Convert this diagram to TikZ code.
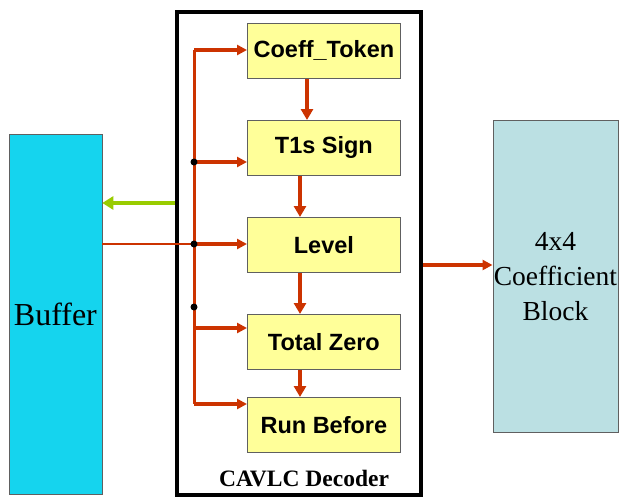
\documentclass[tikz,border=0pt]{standalone}
\usepackage{fontspec}
\setmainfont{Liberation Serif}
\setsansfont{Liberation Sans}
\usetikzlibrary{arrows.meta}
\definecolor{redc}{HTML}{CC3300}
\definecolor{yellowfill}{HTML}{FFFF99}
\definecolor{cyanfill}{HTML}{15D4EE}
\definecolor{bluefill}{HTML}{BBE0E3}
\definecolor{greenc}{HTML}{99CC00}
\definecolor{bordergray}{HTML}{606060}
\begin{document}
\begin{tikzpicture}[x=1pt,y=-1pt,
  stage/.style={draw=bordergray, fill=yellowfill, line width=0.8pt, minimum width=153pt, minimum height=55pt, anchor=north west, inner sep=0pt, font=\sffamily\bfseries\fontsize{23.5}{28}\selectfont},
  harrow/.style={draw=redc, line width=3.5pt, -{Triangle[length=10pt,width=10pt]}},
  varrow/.style={draw=redc, line width=4pt, -{Triangle[length=11pt,width=12pt]}},
  bus/.style={draw=redc, line width=3pt},
  thinred/.style={draw=redc, line width=1.8pt},
  garrow/.style={draw=greenc, line width=4pt, -{Triangle[length=11pt,width=13pt]}},
  junction/.style={fill=black}
]
\useasboundingbox (0,0) rectangle (619,496);
% buffer
\node[draw=bordergray, fill=cyanfill, line width=0.8pt, minimum width=93pt, minimum height=360pt, anchor=north west, inner sep=0pt, font=\fontsize{32}{36}\selectfont] (buf) at (8.5,134) {Buffer};
% coefficient block
\node[draw=bordergray, fill=bluefill, line width=0.8pt, minimum width=125pt, minimum height=312pt, anchor=north west, inner sep=0pt, align=center, font=\fontsize{27.5}{35}\selectfont] (coef) at (492.5,120) {4x4\\Coefficient\\Block};
% decoder frame
\node[draw=black, line width=4pt, minimum width=244.8pt, minimum height=483.5pt, anchor=north west, inner sep=0pt] (dec) at (174.5,9.5) {};
\node[anchor=base, font=\bfseries\fontsize{23.5}{28}\selectfont] (lab) at (304,486) {CAVLC Decoder};
% stages
\node[stage] (ct) at (247,23) {Coeff\_Token};
\node[stage] (t1) at (247,120) {T1s Sign};
\node[stage] (lv) at (247,217) {Level};
\node[stage] (tz) at (247,314) {Total Zero};
\node[stage] (rb) at (247,397) {Run Before};
% bus
\coordinate (bt) at (194,50);
\coordinate (b1) at (194,162);
\coordinate (b2) at (194,244);
\coordinate (b3) at (194,307);
\coordinate (b4) at (194,328);
\coordinate (bb) at (194,404);
\draw[bus] (bt) -- (bb);
\draw[harrow] (bt) -- (ct.west |- bt);
\draw[harrow] (b1) -- (t1.west |- b1);
\draw[harrow] (b2) -- (lv.west |- b2);
\draw[harrow] (b4) -- (tz.west |- b4);
\draw[harrow] (bb) -- (rb.west |- bb);
\draw[thinred] (buf.east |- b2) -- (b2);
\fill[junction] (b1) circle (3.5pt);
\fill[junction] (b2) circle (3.5pt);
\fill[junction] (b3) circle (3.5pt);
% stage chain
\draw[varrow] (ct.south -| 307,0) -- (t1.north -| 307,0);
\draw[varrow] (t1.south -| 300,0) -- (lv.north -| 300,0);
\draw[varrow] (lv.south -| 300,0) -- (tz.north -| 300,0);
\draw[varrow] (tz.south -| 300,0) -- (rb.north -| 300,0);
% outputs
\coordinate (gy) at (0,203);
\draw[garrow] (dec.west |- gy) -- (buf.east |- gy);
\coordinate (oy) at (0,265);
\draw[harrow] (dec.east |- oy) -- (coef.west |- oy);
\end{tikzpicture}
\end{document}
